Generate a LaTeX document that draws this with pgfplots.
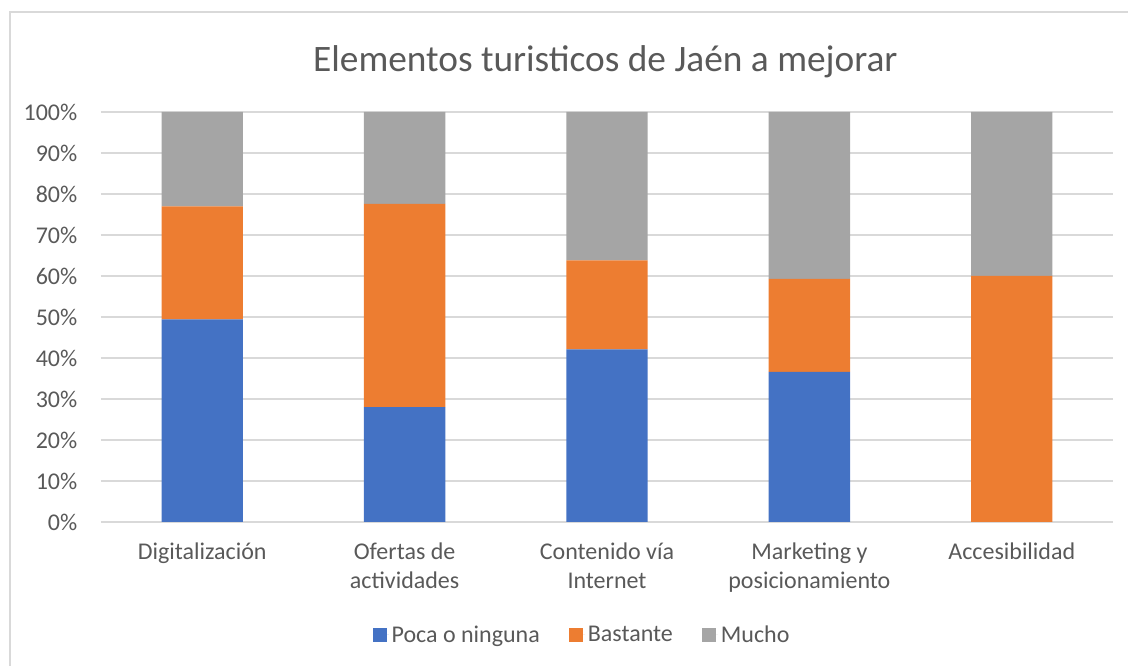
\documentclass[border=0pt]{standalone}
\usepackage{pgfplots}
\usepackage{pgfplotstable}
\pgfplotsset{compat=1.18}
\usepackage{fontspec}
\setmainfont{Carlito}
\definecolor{cblue}{HTML}{4472C4}
\definecolor{corange}{HTML}{ED7D31}
\definecolor{cgray}{HTML}{A5A5A5}
\definecolor{gridc}{HTML}{D9D9D9}
\definecolor{txt}{HTML}{595959}
\pgfplotstableread{
x poca bastante mucho
0 49.4 27.6 23.0
1 28.0 49.6 22.4
2 42.1 21.7 36.2
3 36.6 22.7 40.7
4 0.0 60.0 40.0
}\datatable
\begin{document}
\begin{tikzpicture}
\useasboundingbox (0,0) rectangle (846pt,499.5pt);
\draw[gridc, line width=1pt] (7.5pt,0pt) -- (7.5pt,490.5pt) -- (846pt,490.5pt);
\node[anchor=base, text=txt, font=\fontsize{28}{34}\selectfont] at (454pt,445.5pt) {Elementos turisticos de Jaén a mejorar};
\begin{axis}[
  at={(75.75pt,108pt)}, anchor=south west,
  scale only axis, width=759pt, height=307.5pt,
  ybar stacked, bar width=61pt,
  xmin=-0.5, xmax=4.5, ymin=0, ymax=100,
  xtick=data,
  xticklabels={Digitalización, {Ofertas de\\actividades}, {Contenido vía\\Internet}, {Marketing y\\posicionamiento}, Accesibilidad},
  ytick={0,10,...,100},
  yticklabel={\pgfmathprintnumber{\tick}\%},
  /pgf/number format/assume math mode=true,
  major tick length=0pt,
  axis x line=bottom, axis y line=left,
  x axis line style={gridc, line width=1.5pt, -},
  y axis line style={draw=none},
  ymajorgrids, grid style={gridc, line width=1.5pt},
  ticklabel style={text=txt, font=\fontsize{18}{22}\selectfont},
  xticklabel style={align=center, anchor=north, yshift=-12pt},
  yticklabel style={anchor=east, xshift=-14.25pt},
  legend style={at={(0.4758,-0.2756)}, anchor=center, draw=none, fill=none,
    legend columns=3, font=\fontsize{18}{22}\selectfont, text=txt,
    /tikz/every even column/.append style={column sep=20pt}},
  legend image code/.code={\fill[#1, draw=none] (0pt,-5.25pt) rectangle (10.5pt,5.25pt); \path (0pt,0pt) -- (12pt,0pt);},
]
\addplot[fill=cblue, draw=none] table[x=x, y=poca] {\datatable};
\addplot[fill=corange, draw=none] table[x=x, y=bastante] {\datatable};
\addplot[fill=cgray, draw=none] table[x=x, y=mucho] {\datatable};
\legend{Poca o ninguna, Bastante, Mucho}
\end{axis}
\end{tikzpicture}
\end{document}
